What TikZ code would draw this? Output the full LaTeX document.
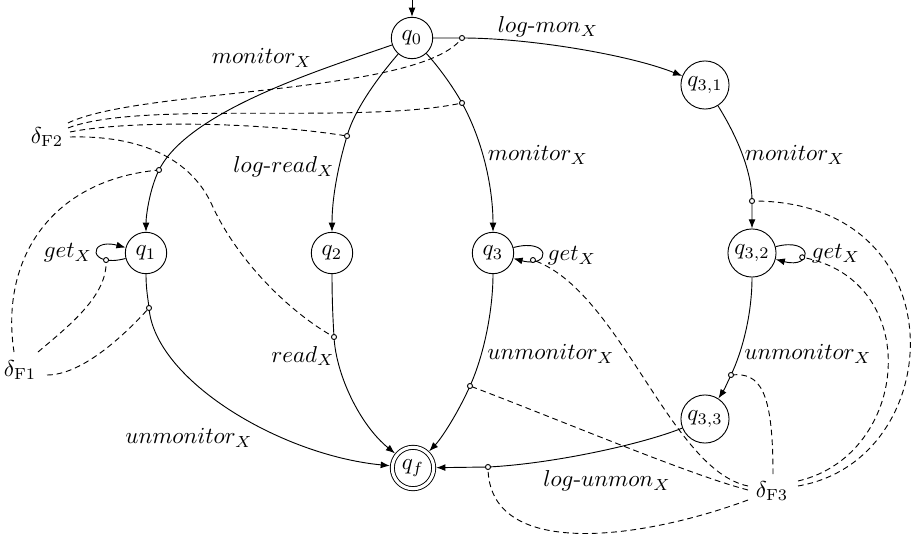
\documentclass[tikz,border=0pt]{standalone}
\usetikzlibrary{arrows.meta,calc}
\begin{document}
\begin{tikzpicture}[x=0.435pt,y=0.435pt,>={Latex[length=4pt,width=3pt]},
  st/.style={circle,draw,minimum size=18pt,inner sep=1.5pt},
  fin/.style={st,double,double distance=1.35pt,outer sep=1.1pt},
  lbl/.style={inner sep=0pt},
  dep/.style={dash pattern=on 2.5pt off 1.7pt},
  mk/.style={draw,fill=white}]
\useasboundingbox (0,0) rectangle (913,542);
% states
\node[st] (q0) at (412,504) {$q_0$};
\node[st] (q31) at (705,457) {$q_{3,1}$};
\node[st] (q1) at (146,289) {$q_1$};
\node[st] (q2) at (332,289) {$q_2$};
\node[st] (q3) at (493,289) {$q_3$};
\node[st] (q32) at (752,289) {$q_{3,2}$};
\node[st] (q33) at (705,123) {$q_{3,3}$};
\node[fin] (qf) at (413,74) {$q_f$};
\node[lbl] (dF2) at (47,405) {$\delta_{\mathrm{F2}}$};
\node[lbl] (dF1) at (20,172) {$\delta_{\mathrm{F1}}$};
\node[lbl] (dF3) at (772,51) {$\delta_{\mathrm{F3}}$};
% marks
\coordinate (init) at (412,542);
\coordinate (m1) at (159,372);
\coordinate (m2) at (347,406);
\coordinate (m3) at (462,439);
\coordinate (m4) at (462,504);
\coordinate (m5) at (752,341);
\coordinate (m6) at (149,234);
\coordinate (m7) at (334,205);
\coordinate (m8) at (470,156);
\coordinate (m9) at (731,167);
\coordinate (m10) at (488,75);
% loops
\draw[->] (q1) to[loop left,min distance=6mm] node[coordinate,pos=0.22] (ml1) {} (q1);
\draw[->] (q3) to[loop right,min distance=6mm] node[coordinate,pos=0.78] (ml3) {} (q3);
\draw[->] (q32) to[loop right,min distance=6mm] node[coordinate,pos=0.63] (ml32) {} (q32);
% dependency lines
\draw[dep] ($(dF2)+(21,14)$) .. controls (140,454) and (420,447) .. (m4);
\draw[dep] ($(dF2)+(21,9)$) .. controls (140,442) and (360,417) .. (m3);
\draw[dep] ($(dF2)+(23,5)$) .. controls (130,422) and (260,420) .. (m2);
\draw[dep] ($(dF2)+(23,0)$) .. controls (150,407) and (194,377) .. (212,337) .. controls (237,282) and (289,230) .. (m7);
\draw[dep] ($(dF1)+(-6,18)$) .. controls (0,282) and (50,362) .. (m1);
\draw[dep] ($(dF1)+(18,18)$) .. controls (70,217) and (108,247) .. (ml1);
\draw[dep] ($(dF1)+(27,-5)$) .. controls (80,167) and (120,202) .. (m6);
\draw[dep] ($(dF3)+(-24,5)$) .. controls (670,72) and (620,252) .. (ml3);
\draw[dep] ($(dF3)+(-24,1)$) .. controls (690,67) and (560,122) .. (m8);
\draw[dep] ($(dF3)+(-24,-9)$) .. controls (640,2) and (488,-18) .. (m10);
\draw[dep] ($(dF3)+(1,17)$) .. controls (773,152) and (760,170) .. (m9);
\draw[dep] ($(dF3)+(26,10)$) .. controls (910,87) and (925,262) .. (ml32);
\draw[dep] ($(dF3)+(26,5)$) .. controls (950,82) and (960,342) .. (m5);
% transitions
\draw[->] (init) -- (q0);
\draw[->] (q0) .. controls (326,474) and (189,432) .. (m1) .. controls (150,354) and (146,327) .. (q1);
\draw[->] (q0) .. controls (380,467) and (355,434) .. (m2) .. controls (337,372) and (332,342) .. (q2);
\draw[->] (q0) .. controls (437,477) and (452,457) .. (m3) .. controls (484,399) and (493,352) .. (q3);
\draw[->] (q0) -- (m4) .. controls (530,504) and (630,487) .. (q31);
\draw[->] (q31) .. controls (730,417) and (752,377) .. (m5) -- (q32);
\draw[->] (q1) .. controls (146,252) and (148,244) .. (m6) .. controls (155,162) and (280,87) .. (qf);
\draw[->] (q2) .. controls (332,242) and (333,222) .. (m7) .. controls (336,167) and (360,117) .. (qf);
\draw[->] (q3) .. controls (493,232) and (484,187) .. (m8) .. controls (456,125) and (440,102) .. (qf);
\draw[->] (q32) .. controls (752,227) and (742,190) .. (m9) .. controls (724,152) .. (q33);
\draw[->] (q33) .. controls (640,97) and (550,78) .. (m10) -- (qf);
% marks on top
\foreach \m in {m1,m2,m3,m4,m5,m6,m7,m8,m9,m10,ml1,ml3,ml32}
  \draw[mk] (\m) circle[radius=1.1pt];
% labels
\node[lbl] (l1) at (262,484) {$monitor_X$};
\node[lbl] (l2) at (284,375) {$log\mbox{-}read_X$};
\node[lbl] (l3) at (538,387) {$monitor_X$};
\node[lbl] (l4) at (548,515) {$log\mbox{-}mon_X$};
\node[lbl] (l5) at (795,387) {$monitor_X$};
\node[lbl] (l6) at (68,289) {$get_X$};
\node[lbl] (l7) at (572,286) {$get_X$};
\node[lbl] (l8) at (836,288) {$get_X$};
\node[lbl] (l9) at (189,104) {$unmonitor_X$};
\node[lbl] (l10) at (303,186) {$read_X$};
\node[lbl] (l11) at (551,188) {$unmonitor_X$};
\node[lbl] (l12) at (808,188) {$unmonitor_X$};
\node[lbl] (l13) at (607,61) {$log\mbox{-}unmon_X$};
\end{tikzpicture}
\end{document}
